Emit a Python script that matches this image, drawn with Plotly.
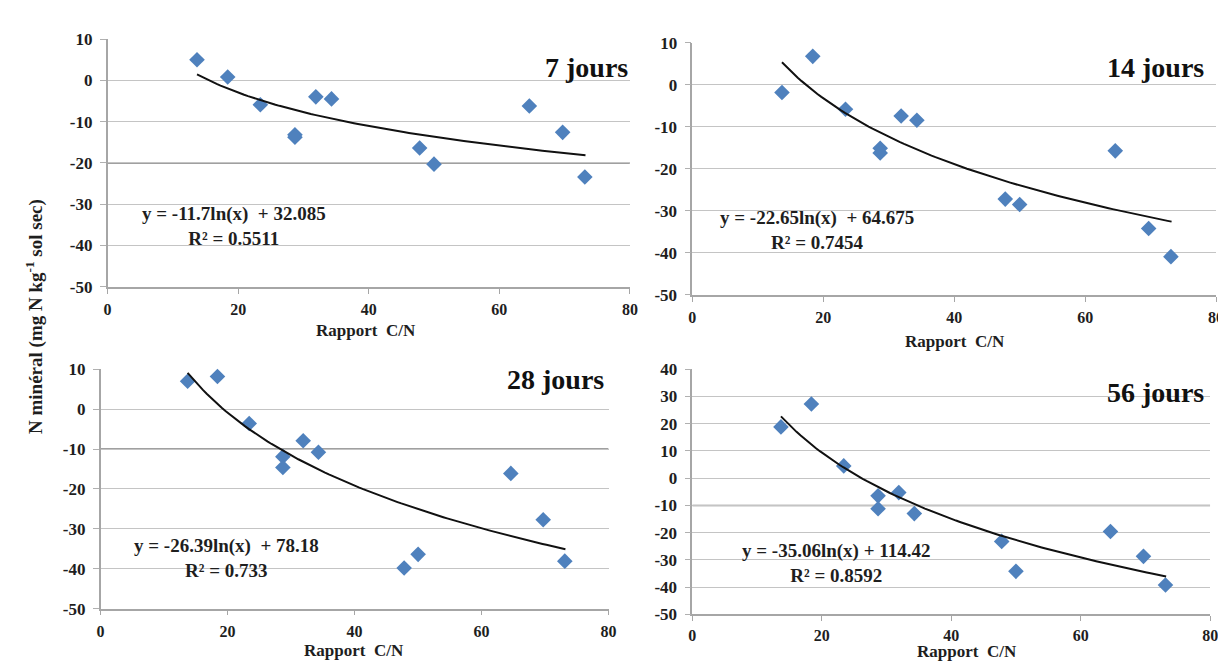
import numpy as np
import plotly.graph_objects as go

W, H = 1226, 665

cn_ratio = [13.7, 18.4, 23.4, 28.7, 28.7, 31.9, 34.3, 47.8, 50.0, 64.6, 69.7, 73.1]

n_7 = [5.0, 0.8, -5.9, -13.2, -13.8, -4.0, -4.5, -16.4, -20.3, -6.2, -12.6, -23.4]
n_14 = [-1.8, 6.8, -5.8, -15.1, -16.2, -7.4, -8.4, -27.2, -28.5, -15.7, -34.2, -40.9]
n_28 = [7.0, 8.2, -3.6, -11.9, -14.6, -7.9, -10.8, -39.8, -36.4, -16.1, -27.7, -38.1]
n_56 = [18.8, 27.2, 4.5, -6.5, -11.2, -5.3, -13.0, -23.2, -34.2, -19.6, -28.7, -39.2]

titles = ["7 jours", "14 jours", "28 jours", "56 jours"]
slopes = [-11.7, -22.65, -26.39, -35.06]
intercepts = [32.085, 64.675, 78.18, 114.42]
eq_labels = ["y = -11.7ln(x)  + 32.085", "y = -22.65ln(x)  + 64.675",
             "y = -26.39ln(x)  + 78.18", "y = -35.06ln(x) + 114.42"]
r2_labels = ["R² = 0.5511", "R² = 0.7454", "R² = 0.733", "R² = 0.8592"]
y_ticks = [[10, 0, -10, -20, -30, -40, -50]] * 3 + [[40, 30, 20, 10, 0, -10, -20, -30, -40, -50]]
x_ticks = [0, 20, 40, 60, 80]
x_title = "Rapport  C/N"
y_title = "N minéral (mg N kg<sup>-1</sup> sol sec)"
series = [n_7, n_14, n_28, n_56]

# panel pixel boxes: x0, x80, ytop, ybottom
boxes = [(96.5, 624, 22.7, 277.7), (687, 1216, 26.7, 286),
         (89.5, 602.5, 362.7, 609), (687, 1210, 362.5, 615)]
# equation block centre (x, y)
eq_pos = [(224, 215), (813, 219), (217, 557), (832, 562)]
title_pos = [(624, 52), (1206, 52), (600, 373), (1206, 387)]
# x-title: centre x, y, vertical anchor
xtitle_pos = [(358, 323, "middle"), (952, 334, "middle"),
              (345, 652, "middle"), (964, 665, "bottom")]
dark_lines = [-20, None, -10, -10]

FONT = "Liberation Serif"
TXT = "#1e1e1e"
fig = go.Figure()
layout = {}
annotations = []
shapes = []


def px(x):
    return x / W


def py(y):
    return 1 - y / H


def bold(v):
    return "<b>%s</b>" % v


for i in range(4):
    x0, x1, yt, yb = boxes[i]
    sfx = "" if i == 0 else str(i + 1)
    xa, ya = "x" + sfx, "y" + sfx
    fig.add_trace(go.Scatter(
        x=cn_ratio, y=series[i], mode="markers", xaxis=xa, yaxis=ya,
        marker=dict(symbol="diamond", size=12, color="#4F81BD"),
        showlegend=False, cliponaxis=False))
    xs = np.linspace(min(cn_ratio), max(cn_ratio) + 0.1, 100)
    fig.add_trace(go.Scatter(
        x=xs, y=slopes[i] * np.log(xs) + intercepts[i], mode="lines",
        xaxis=xa, yaxis=ya, line=dict(color="#111111", width=2),
        showlegend=False))
    yt_vals = y_ticks[i]
    layout["xaxis" + sfx] = dict(
        domain=[px(x0), px(x1)], anchor=ya, range=[0, 80],
        tickvals=x_ticks, ticktext=[bold(v) for v in x_ticks],
        showgrid=False, zeroline=False, showline=True, linecolor="#a6a6a6",
        linewidth=1.5, ticks="outside", ticklen=5, tickcolor="#a6a6a6",
        ticklabelstandoff=2 if i < 3 else 1,
        tickfont=dict(family=FONT, size=16, color=TXT))
    layout["yaxis" + sfx] = dict(
        domain=[py(yb), py(yt)], anchor=xa, range=[min(yt_vals), max(yt_vals)],
        tickvals=yt_vals, ticktext=[bold(v) for v in yt_vals],
        showgrid=True, gridcolor="#c4c4c4", gridwidth=1.3, zeroline=False,
        showline=True, linecolor="#a6a6a6", linewidth=1.5, ticks="outside",
        ticklen=6, tickcolor="#b0b0b0", ticklabelstandoff=4,
        tickfont=dict(family=FONT, size=17, color=TXT))
    if dark_lines[i] is not None:
        shapes.append(dict(type="line", xref=xa, yref=ya, x0=0, x1=80,
                           y0=dark_lines[i], y1=dark_lines[i],
                           line=dict(color="#808080", width=1.5), layer="below"))
    ex, ey = eq_pos[i]
    annotations.append(dict(text=bold(eq_labels[i]) + "<br>" + bold(r2_labels[i]),
                            x=px(ex), y=py(ey), xref="paper", yref="paper",
                            showarrow=False, xanchor="center", yanchor="middle",
                            align="center",
                            font=dict(family=FONT, size=19, color=TXT)))
    tx, ty = title_pos[i]
    annotations.append(dict(text=bold(titles[i]), x=px(tx), y=py(ty),
                            xref="paper", yref="paper", showarrow=False,
                            xanchor="right", yanchor="middle",
                            font=dict(family=FONT, size=28, color="#111")))
    gx, gy, ganchor = xtitle_pos[i]
    annotations.append(dict(text=bold(x_title), x=px(gx), y=py(gy),
                            xref="paper", yref="paper", showarrow=False,
                            xanchor="center", yanchor=ganchor,
                            font=dict(family=FONT, size=17, color=TXT)))

annotations.append(dict(text=bold(y_title), x=px(22), y=py(308),
                        xref="paper", yref="paper", showarrow=False, textangle=-90,
                        xanchor="center", yanchor="middle",
                        font=dict(family=FONT, size=19, color=TXT)))

fig.update_layout(width=W, height=H, margin=dict(l=0, r=0, t=0, b=0),
                  paper_bgcolor="white", plot_bgcolor="white",
                  annotations=annotations, shapes=shapes, **layout)
fig.write_html("out.html")
